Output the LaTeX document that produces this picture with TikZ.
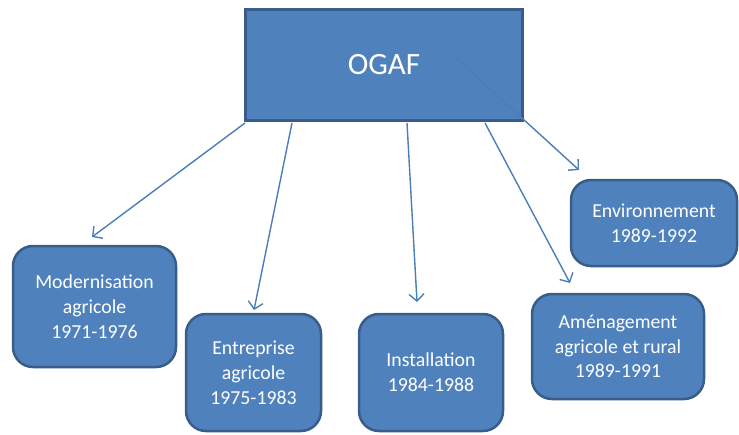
\documentclass[tikz,border=0pt]{standalone}
\usepackage{fontspec}
\setmainfont{Carlito}
\usetikzlibrary{arrows.meta}
\definecolor{boxfill}{HTML}{4F81BD}
\definecolor{boxline}{HTML}{385D8A}
\definecolor{arrowcol}{HTML}{4A7EBB}
\tikzset{
  topbox/.style={draw=boxline, fill=boxfill, line width=3pt, text=white,
    minimum width=277pt, minimum height=111pt, inner sep=0pt,
    font=\fontsize{31}{36}\selectfont},
  subbox/.style={draw=boxline, fill=boxfill, line width=2.5pt, rounded corners=20pt,
    text=white, align=center, inner sep=0pt,
    font=\fontsize{19.8}{24.8}\selectfont},
  conn/.style={draw=arrowcol, line width=1.4pt,
    -{Straight Barb[length=7pt,width=15pt,line width=1.4pt]}}
}
\begin{document}
\begin{tikzpicture}[x=1pt,y=-1pt]
\useasboundingbox (0,0) rectangle (739,434);
\node[topbox] (ogaf) at (384,65) {OGAF};
\node[subbox, minimum width=163pt, minimum height=121pt] (mod) at (94.5,306.5) {Modernisation\\agricole\\1971-1976};
\node[subbox, minimum width=135pt, minimum height=117pt] (ent) at (253.5,372.5) {Entreprise\\agricole\\1975-1983};
\node[subbox, minimum width=144pt, minimum height=117pt] (ins) at (431,372.5) {Installation\\1984-1988};
\node[subbox, minimum width=172pt, minimum height=105pt] (ame) at (618,346.5) {Aménagement\\agricole et rural\\1989-1991};
\node[subbox, minimum width=166pt, minimum height=86pt] (env) at (654,223) {Environnement\\1989-1992};
\coordinate (s1) at (245,123);
\coordinate (s2) at (292,123);
\coordinate (s3) at (407,123);
\coordinate (s4) at (485,123);
\coordinate (s5) at (455,57);
\coordinate (e1) at (92,237);
\coordinate (e2) at (254,310);
\coordinate (e3) at (417,302);
\coordinate (e4) at (570,283);
\coordinate (e5) at (579,170);
\draw[conn] (s1) -- (e1);
\draw[conn] (s2) -- (e2);
\draw[conn] (s3) -- (e3);
\draw[conn] (s4) -- (e4);
\draw[conn] (s5) -- (e5);
\end{tikzpicture}
\end{document}
